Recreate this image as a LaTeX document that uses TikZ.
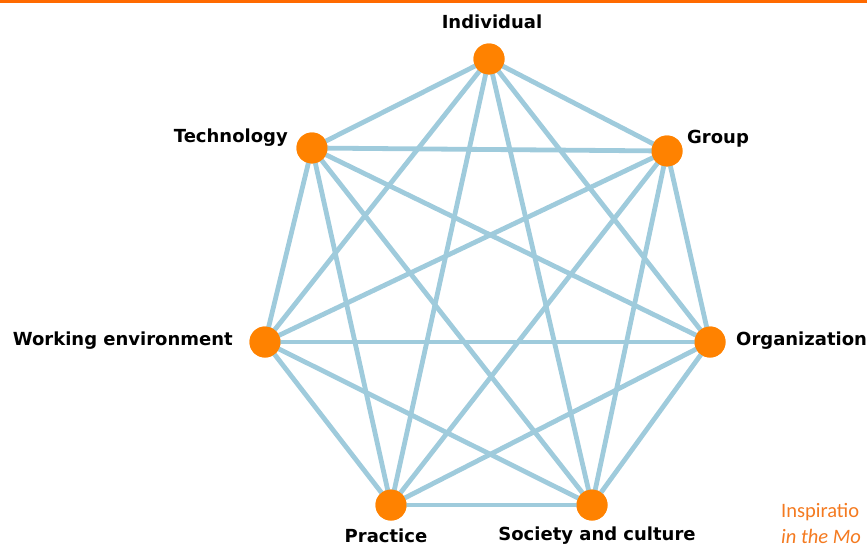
\documentclass[tikz,border=0pt]{standalone}
\usepackage{fontspec}
\setmainfont{DejaVu Sans}
\newfontfamily\notefont{Carlito}
\definecolor{edgeblue}{HTML}{9FCBDC}
\definecolor{dotorange}{HTML}{FF8200}
\definecolor{barorange}{HTML}{FF6A00}
\definecolor{noteorange}{HTML}{F47A20}
\begin{document}
\begin{tikzpicture}[x=1pt,y=-1pt,
  vert/.style={circle,fill=dotorange,minimum size=31pt,inner sep=0pt},
  lbl/.style={font=\fontsize{18}{20}\selectfont\bfseries,text=black,inner sep=0pt},
  edge/.style={draw=edgeblue,line width=4.8pt},
  note/.style={font=\notefont\fontsize{20.5}{24}\selectfont,text=noteorange,inner sep=0pt,anchor=base west}]
\useasboundingbox (0,0) rectangle (867,547);
\clip (0,0) rectangle (867,547);
\fill[barorange] (0,0) rectangle (867,3);
\node[vert] (I) at (489,59) {};
\node[vert] (G) at (667,151) {};
\node[vert] (O) at (710,342) {};
\node[vert] (S) at (592,505) {};
\node[vert] (P) at (391,505) {};
\node[vert] (W) at (265,342) {};
\node[vert] (T) at (312,148) {};
\foreach \a/\b in {I/G,I/O,I/S,I/P,I/W,I/T,G/O,G/S,G/P,G/W,G/T,O/S,O/P,O/W,O/T,S/P,S/W,S/T,P/W,P/T,W/T}
  \draw[edge] (\a.center) -- (\b.center);
\foreach \n in {I,G,O,S,P,W,T}
  \fill[dotorange] (\n) circle (15.5);
\node[lbl] (lI) at (492,22) {Individual};
\node[lbl,anchor=east] (lT) at (288,138) {Technology};
\node[lbl,anchor=west] (lG) at (687,139) {Group};
\node[lbl,anchor=east] (lW) at (233,341) {Working environment};
\node[lbl,anchor=west] (lO) at (736,341) {Organization};
\node[lbl] (lP) at (386,536) {Practice};
\node[lbl] (lS) at (597,536) {Society and culture};
\node[note] (n1) at (781,517) {Inspiratio};
\node[note] (n2) at (781,543) {\itshape in the Mo};
\end{tikzpicture}
\end{document}
